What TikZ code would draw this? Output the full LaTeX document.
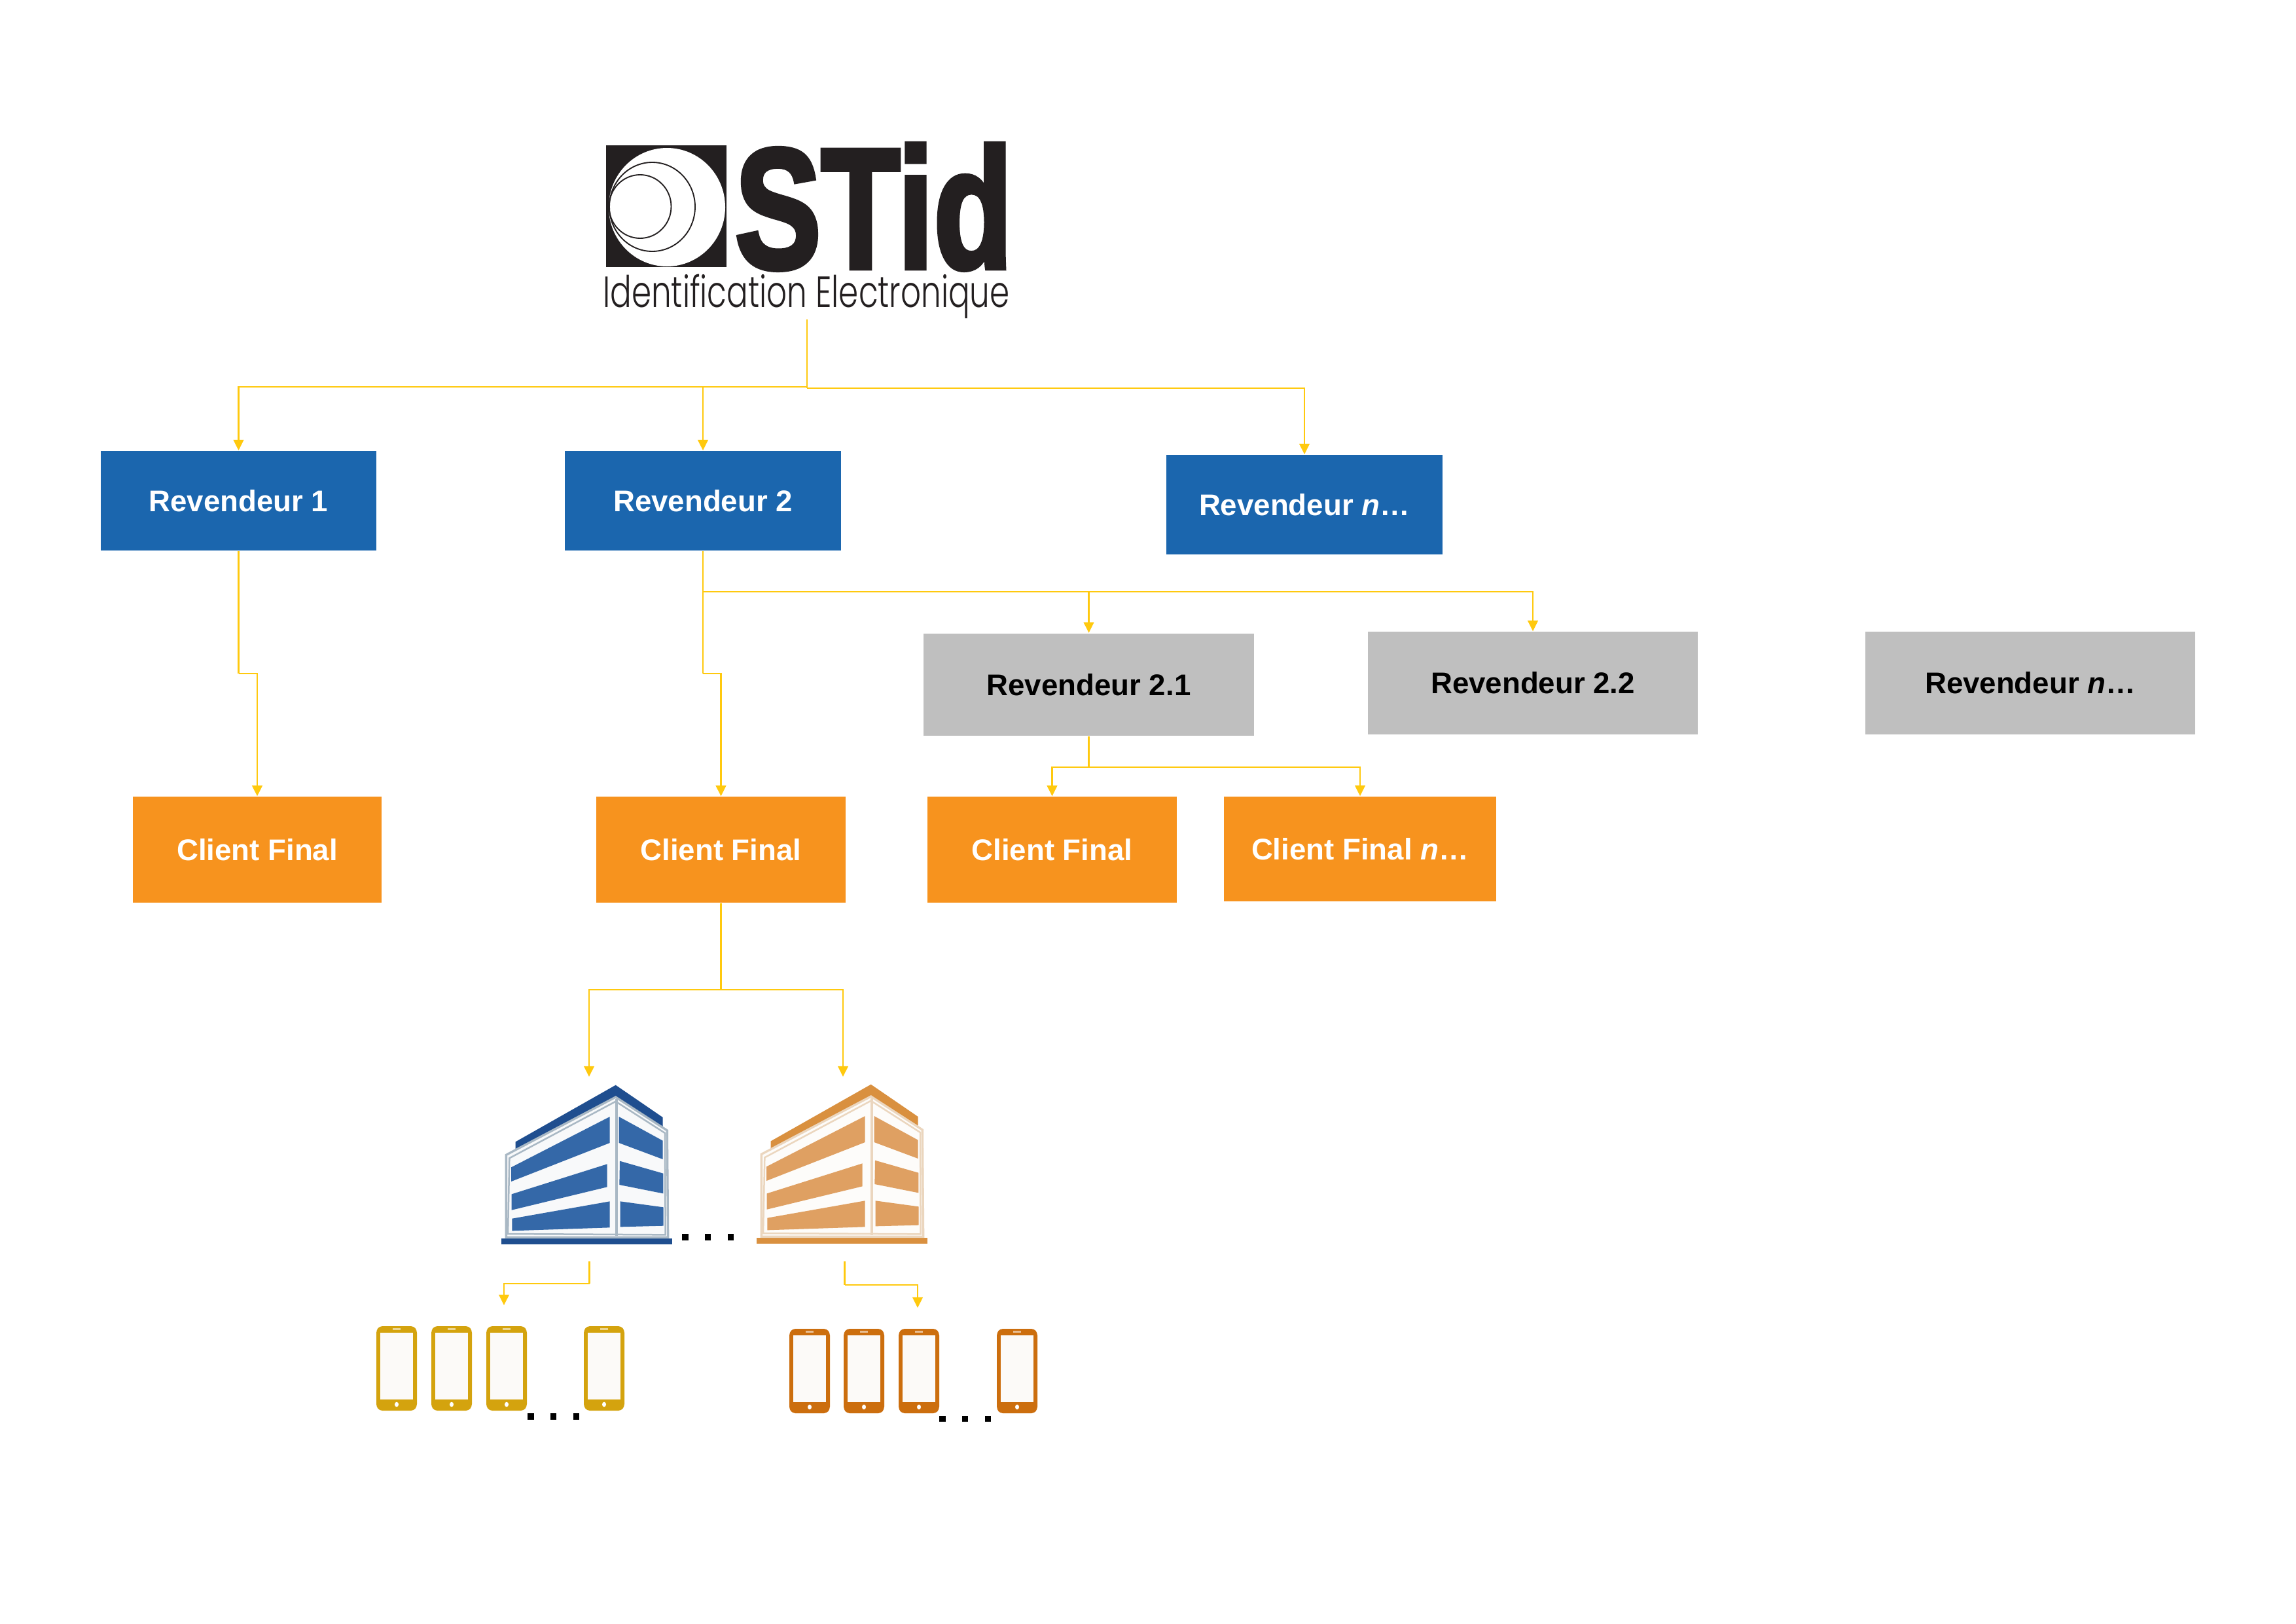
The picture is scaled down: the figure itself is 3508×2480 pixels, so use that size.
\documentclass[tikz,border=0pt]{standalone}
\usepackage{fontspec}
\usetikzlibrary{arrows.meta}
\setmainfont{Liberation Sans}
\newfontfamily\stidfont[FakeBold=3.2]{Liberation Sans Bold}
\newfontfamily\sloganfont{Poppins Light}
\definecolor{cblue}{HTML}{1B66AE}
\definecolor{corange}{HTML}{F7931E}
\definecolor{cgray}{HTML}{BFBFBF}
\definecolor{cline}{HTML}{FFC90E}
\definecolor{clogo}{HTML}{231F20}
\definecolor{broofb}{HTML}{1F4E8F}
\definecolor{bbandb}{HTML}{3468A8}
\definecolor{bwallb}{HTML}{A9B8C4}
\definecolor{broofo}{HTML}{D9903F}
\definecolor{bbando}{HTML}{DFA062}
\definecolor{bwallo}{HTML}{EBD6BE}
\definecolor{pyellow}{HTML}{D4A30E}
\definecolor{porange}{HTML}{CC6E0E}
\definecolor{pscreen}{HTML}{FCFAF8}
\tikzset{
  base/.style={inner sep=0pt,font=\fontsize{10.95pt}{13pt}\selectfont\bfseries,align=center},
  bluebox/.style={base,fill=cblue,text=white,minimum width=101.2pt,minimum height=36.5pt},
  graybox/.style={base,fill=cgray,text=black,minimum width=121pt,minimum height=37.6pt},
  orangebox/.style={base,fill=corange,text=white,minimum width=91.4pt,minimum height=38.8pt},
  orangewide/.style={base,fill=corange,text=white,minimum width=99.8pt,minimum height=38.4pt},
  conn/.style={draw=cline,line width=0.7pt},
  arr/.style={conn,-{Triangle[length=3.9pt,width=3.7pt]}},
  dot/.style={fill=black}
}
\newcommand{\bldg}[5]{%
\begin{scope}[shift={(#1,#2)},scale=0.33333]
  \fill[#3] (78,812) rectangle (860,840);
  \fill[#3] (143,370) -- (602,110) -- (818,258) -- (818,300) -- (602,165) -- (143,405) -- cycle;
  \filldraw[fill=#5!8!white,draw=#5,line width=0.8pt] (100,430) -- (602,165) -- (838,318) -- (842,808) -- (100,808) -- cycle;
  \draw[#5,line width=0.6pt] (115,445) -- (602,185) -- (828,330) -- (830,796) -- (108,792) -- cycle;
  \draw[#5,line width=1pt] (605,175) -- (605,800);
  \fill[#4] (123,487) -- (575,255) -- (575,375) -- (123,552) -- cycle;
  \fill[#4] (125,610) -- (563,472) -- (563,577) -- (125,683) -- cycle;
  \fill[#4] (127,722) -- (575,643) -- (575,763) -- (127,778) -- cycle;
  \fill[#4] (617,255) -- (818,365) -- (818,450) -- (617,375) -- cycle;
  \fill[#4] (621,458) -- (820,515) -- (820,607) -- (619,567) -- cycle;
  \fill[#4] (623,643) -- (821,670) -- (821,755) -- (623,760) -- cycle;
\end{scope}}
\newcommand{\phoneicon}[3]{%
\begin{scope}[shift={(#1,#2)}]
  \fill[#3,rounded corners=1pt] (5,0) -- (57,0) -- (62,6) -- (62,123) -- (57,129) -- (5,129) -- (0,123) -- (0,6) -- cycle;
  \fill[pscreen] (6.3,9.7) rectangle (55.7,112);
  \fill[#3!45!white] (24.5,3.2) rectangle (37,6.2);
  \fill[white] (31,119.5) ellipse [x radius=3,y radius=3.8];
\end{scope}}
\newcommand{\threedots}[3]{%
  \fill[dot] (#1,#2) rectangle ++(9.5,#3);
  \fill[dot] (#1+34.5,#2) rectangle ++(9.5,#3);
  \fill[dot] (#1+69.5,#2) rectangle ++(9.5,#3);}
\begin{document}
\begin{tikzpicture}[x=0.24pt,y=-0.24pt]
\useasboundingbox (0,0) rectangle (3508,2480);
\fill[white] (0,0) rectangle (3508,2480);

% logo
\fill[clogo] (926,222) rectangle (1110,408);
\fill[white] (1019,316.5) ellipse [x radius=89,y radius=90.5];
\draw[clogo,line width=0.45pt] (996.5,316) ellipse [x radius=65.5,y radius=68];
\draw[clogo,line width=0.45pt] (978,315.5) ellipse [x radius=47.5,y radius=48.5];
\node[inner sep=0pt,text=clogo] (logoname) at (1335,316) {\scalebox{0.745}[0.985]{\stidfont\fontsize{63.6pt}{64pt}\selectfont STid}};
\node[inner sep=0pt,text=clogo] (logoslogan) at (1232,453) {\scalebox{0.726}[1]{\sloganfont\fontsize{16pt}{18pt}\selectfont Identification Electronique}};
\coordinate (logoout) at (1233,488);

% boxes
\node[bluebox] (r1) at (364.5,765) {Revendeur 1};
\node[bluebox] (r2) at (1074,765) {Revendeur 2};
\node[bluebox] (rn) at (1993,771) {Revendeur \textit{n}…};
\node[graybox] (r21) at (1663.5,1046) {Revendeur 2.1};
\node[graybox] (r22) at (2342,1043.5) {Revendeur 2.2};
\node[graybox] (r2n) at (3102,1043.5) {Revendeur \textit{n}…};
\node[orangebox] (c1) at (393,1298) {Client Final};
\node[orangebox] (c2) at (1101.5,1298) {Client Final};
\node[orangebox] (c3) at (1607.5,1298) {Client Final};
\node[orangewide] (cn) at (2078,1297) {Client Final \textit{n}…};

% junctions
\coordinate (jtl) at (1233,591);
\coordinate (jtr) at (1233,593);
\coordinate (j2) at (1074,904);
\coordinate (k1) at (364.5,1029);
\coordinate (k2) at (1074,1029);
\coordinate (j21) at (1663.5,1172);
\coordinate (jc2) at (1101.5,1512);
\coordinate (b1top) at (900,1645);
\coordinate (b2top) at (1288,1645);
\coordinate (b1out) at (900.5,1927);
\coordinate (b2out) at (1290.5,1927);
\coordinate (b1j) at (900.5,1961);
\coordinate (b2j) at (1290.5,1963);
\coordinate (p1top) at (770,1994);
\coordinate (p2top) at (1402,1998);

% connectors
\draw[conn] (logoout) -- (jtr);
\draw[arr] (jtl) -| (r1.north);
\draw[arr] (jtl -| r2.north) -- (r2.north);
\draw[arr] (jtr) -| (rn.north);
\draw[conn] (r1.south) -- (k1);
\draw[arr] (k1) -| (c1.north);
\draw[conn] (r2.south) -- (k2);
\draw[arr] (k2) -| (c2.north);
\draw[arr] (j2) -| (r21.north);
\draw[arr] (j2) -| (r22.north);
\draw[conn] (r21.south) -- (j21);
\draw[arr] (j21) -| (c3.north);
\draw[arr] (j21) -| (cn.north);
\draw[conn] (c2.south) -- (jc2);
\draw[arr] (jc2) -| (b1top);
\draw[arr] (jc2) -| (b2top);
\draw[conn] (b1out) -- (b1j);
\draw[arr] (b1j) -| (p1top);
\draw[conn] (b2out) -- (b2j);
\draw[arr] (b2j) -| (p2top);

% buildings
\bldg{740}{1621}{broofb}{bbandb}{bwallb}
\bldg{1130}{1620}{broofo}{bbando}{bwallo}
\threedots{1042}{1885}{10}

% phones
\phoneicon{575}{2026}{pyellow}
\phoneicon{659}{2026}{pyellow}
\phoneicon{743}{2026}{pyellow}
\phoneicon{892}{2026}{pyellow}
\threedots{806}{2159}{9.5}
\phoneicon{1206}{2030}{porange}
\phoneicon{1289}{2030}{porange}
\phoneicon{1373}{2030}{porange}
\phoneicon{1523}{2030}{porange}
\threedots{1435}{2162.5}{9.5}
\end{tikzpicture}
\end{document}
